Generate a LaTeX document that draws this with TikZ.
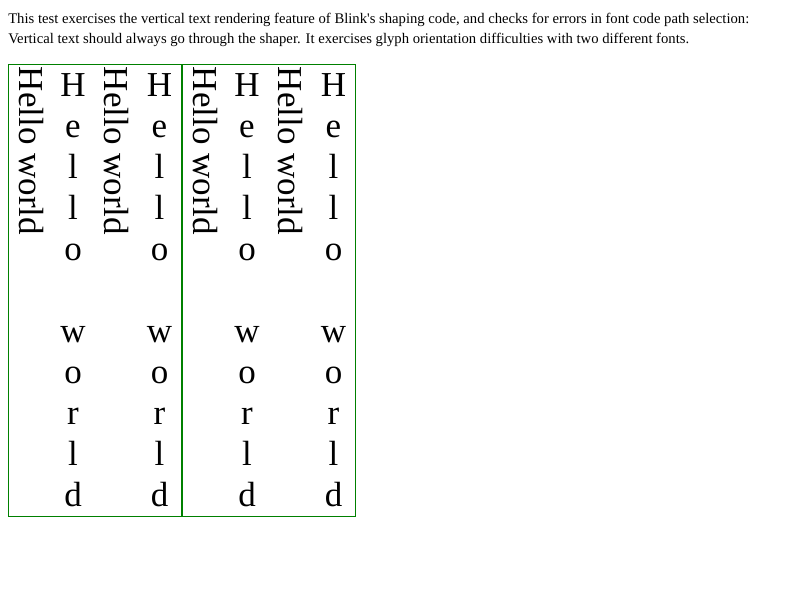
\documentclass[tikz,border=0pt]{standalone}
\usepackage{fontspec}
\setmainfont{Liberation Serif}
\definecolor{boxgreen}{RGB}{0,128,0}

\begin{document}
\begin{tikzpicture}[
  x=0.75pt, y=-0.75pt,
  intro/.style={anchor=base west, inner sep=0pt, font=\fontsize{11pt}{15pt}\selectfont},
  sideways/.style={anchor=base west, inner sep=0pt, rotate=-90, font=\fontsize{26.25pt}{30pt}\selectfont},
  upright/.style={anchor=base, inner sep=0pt, font=\fontsize{26.25pt}{30pt}\selectfont},
  testbox/.style={draw=boxgreen, line width=0.75pt}]
  \useasboundingbox (0,0) rectangle (800,600);
  % Description above the test boxes
  \node[intro] (line1) at (8,23) {This test exercises the vertical text rendering feature of Blink\textquotesingle s shaping code, and checks for errors in font code path selection:};
  \node[intro] (line2) at (8,43) {Vertical text should always go through the shaper. It exercises glyph orientation difficulties with two different fonts.};
  % Two boxes, one per font
  \foreach \bx [count=\b] in {0,174} {
    \draw[testbox] (8.5+\bx,64.5) rectangle (181.5+\bx,516.5);
    % Sideways text columns
    \node[sideways] (side-\b-1) at (19.7+\bx,66.6) {Hello world};
    \node[sideways] (side-\b-2) at (104.7+\bx,66.6) {Hello world};
    % Upright text columns, one letter per line
    \foreach \ch/\k in {H/0,e/1,l/2,l/3,o/4,w/6,o/7,r/8,l/9,d/10} {
      \node[upright] (up-\b-1-\k) at (73+\bx,96+41*\k) {\ch};
      \node[upright] (up-\b-2-\k) at (159.5+\bx,96+41*\k) {\ch};
    }
  }
\end{tikzpicture}
\end{document}
